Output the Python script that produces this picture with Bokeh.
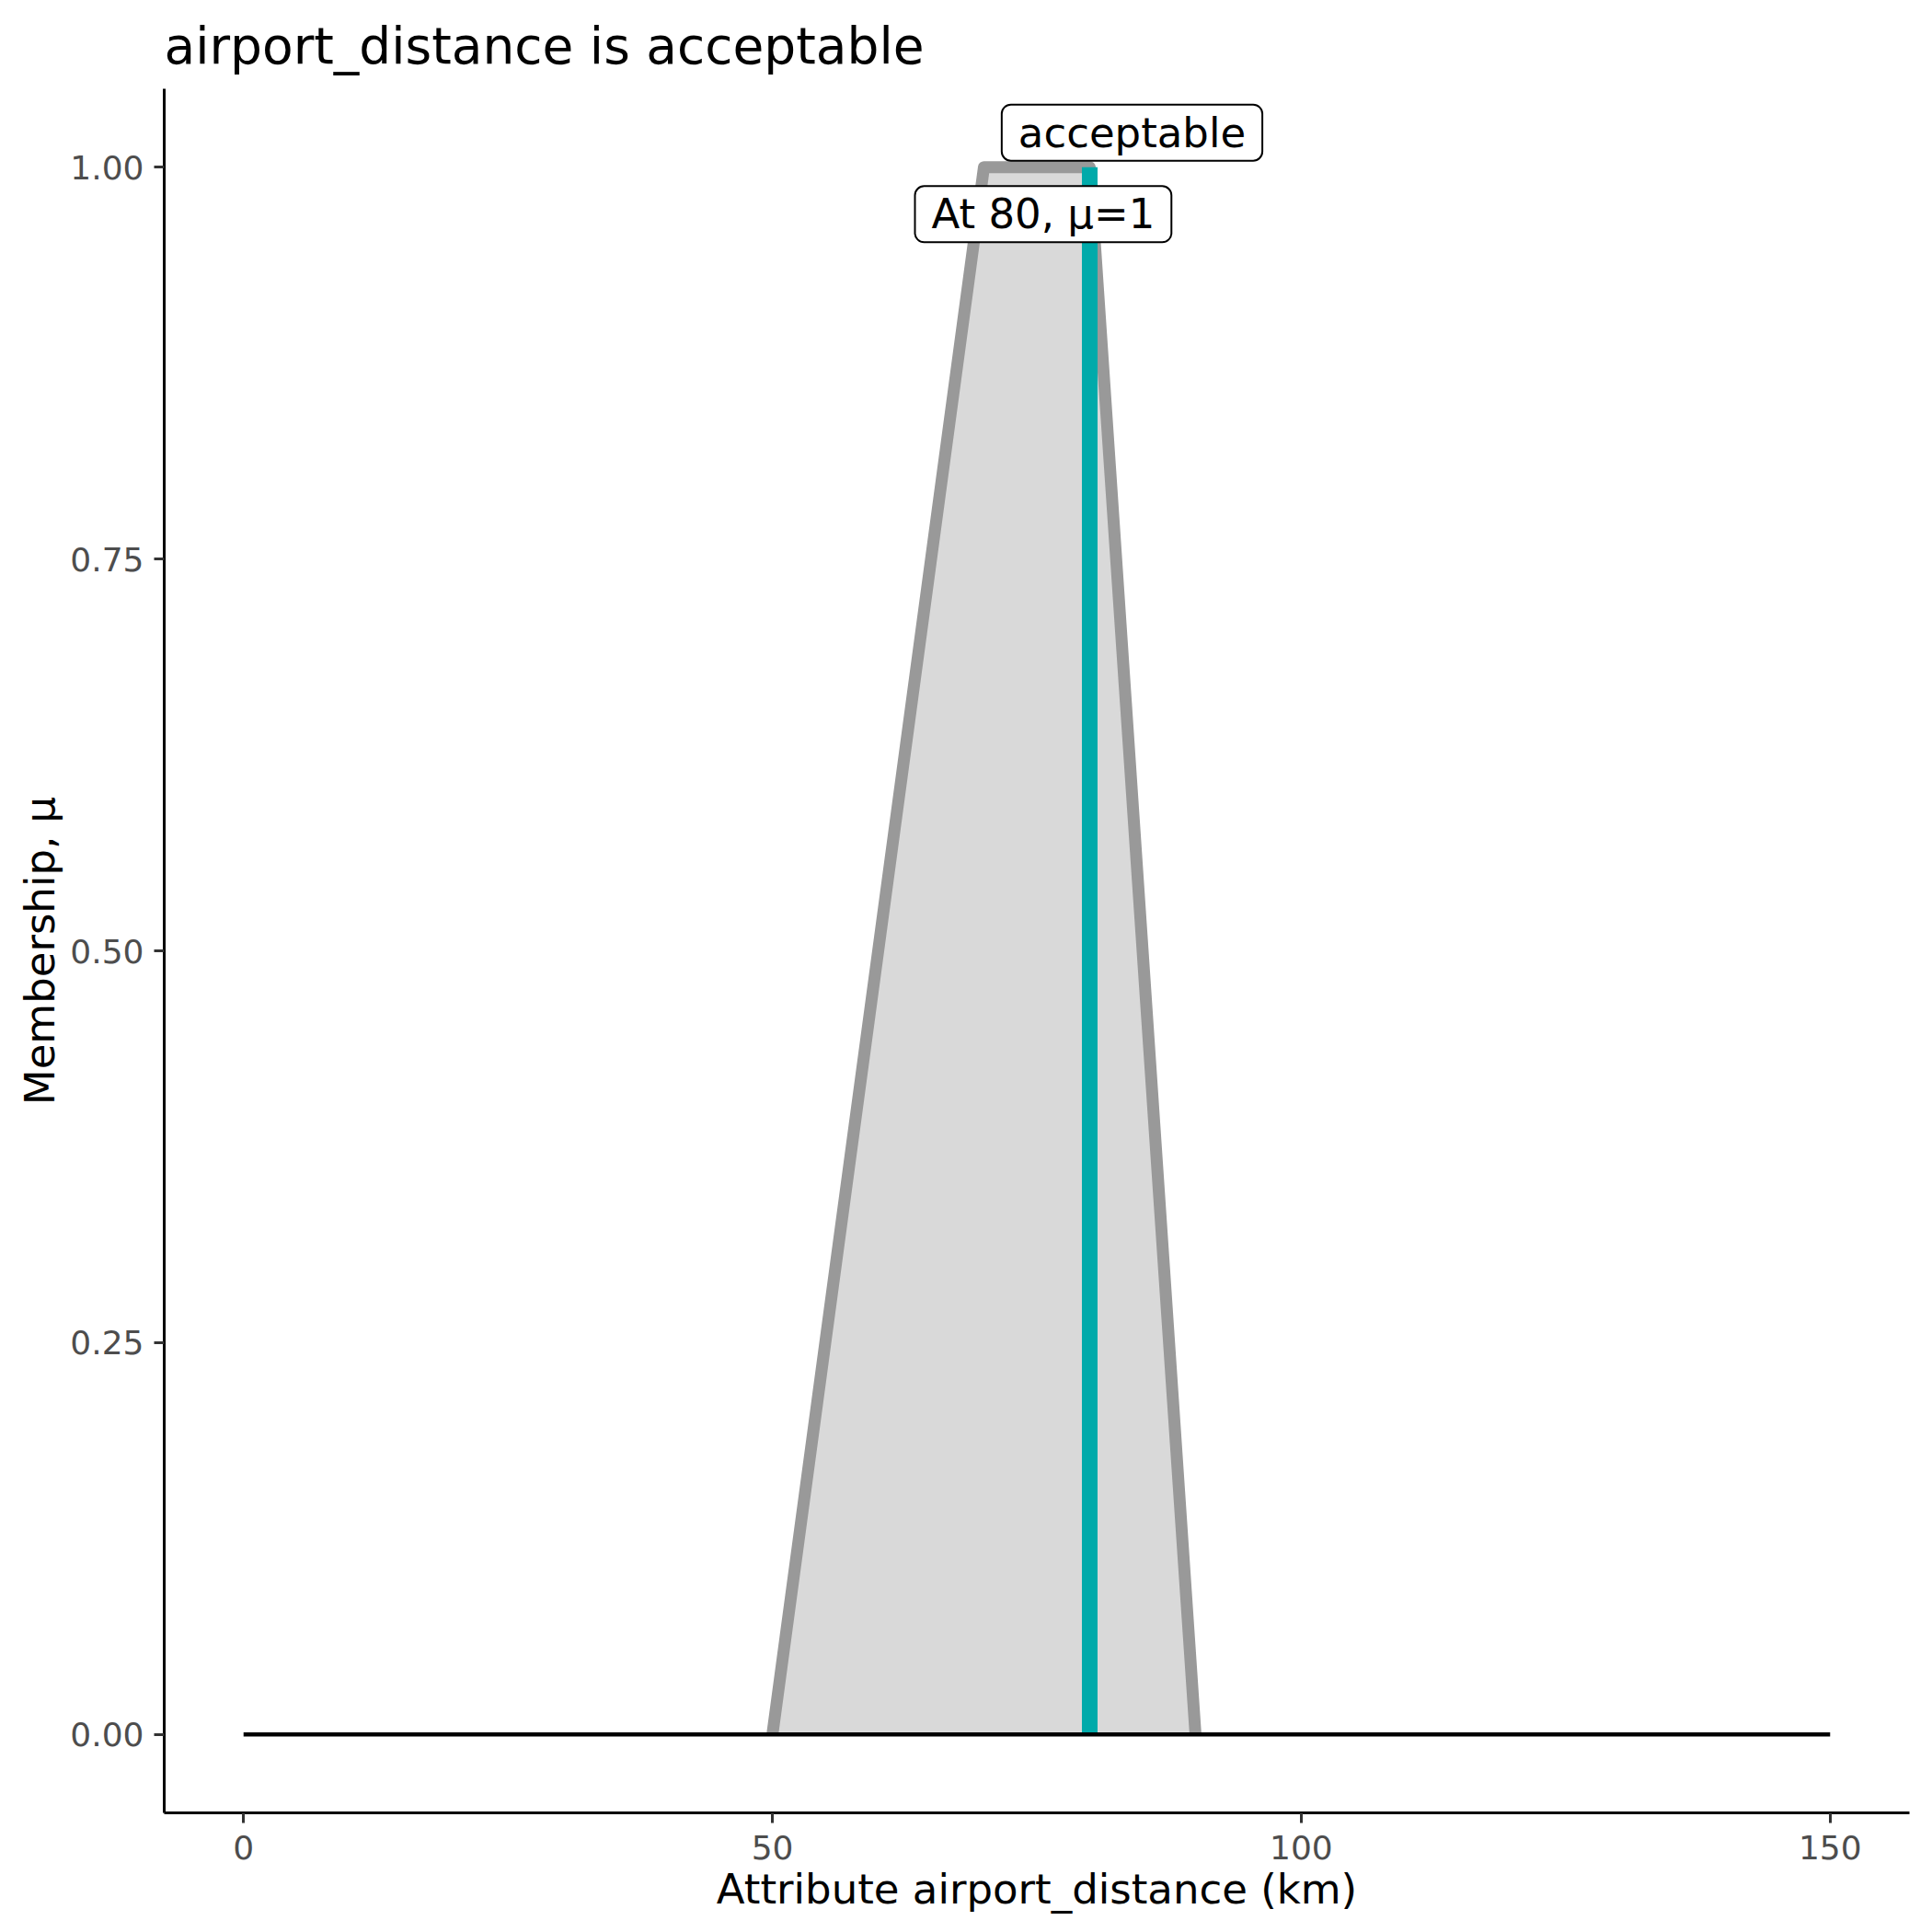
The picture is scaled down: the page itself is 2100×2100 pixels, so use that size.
from bokeh.plotting import figure
from bokeh.models import Range1d, FixedTicker, Label
from bokeh.embed import file_html
from bokeh.resources import INLINE

# ---- data ----
universe_x = [0, 150]
universe_y = [0, 0]
mf_x = [50, 70, 80, 90]
mf_y = [0, 1, 1, 0]
obs_x = [80, 80]
obs_y = [0, 1]
term_label = "acceptable"
term_label_pos = [84.0, 1.022]
obs_label = "At 80, \u03bc=1"
obs_label_pos = [75.6, 0.97]
x_ticks = [0, 50, 100, 150]
y_ticks = [0, 0.25, 0.5, 0.75, 1.0]
y_tick_labels = ["0.00", "0.25", "0.50", "0.75", "1.00"]
title_text = "airport_distance is acceptable"

FONT = "DejaVu Sans"

p = figure(width=2084, height=2084, output_backend="svg", toolbar_location=None,
           x_range=Range1d(-7.5, 157.5), y_range=Range1d(-0.05, 1.05),
           min_border_left=178, min_border_right=9, min_border_top=96, min_border_bottom=114,
           title=title_text)
p.background_fill_color = "white"
p.border_fill_color = "white"
p.outline_line_color = None
p.grid.visible = False

p.title.text_font = FONT
p.title.text_font_size = "55px"
p.title.text_font_style = "normal"
p.title.text_color = "black"
p.title.align = "left"
p.title.standoff = 30

# fuzzy set
p.patch(mf_x, mf_y, fill_color="#D9D9D9", line_color=None)
p.line(mf_x, mf_y, line_color="#999999", line_width=13, line_join="round", line_cap="butt")
p.line(obs_x, obs_y, line_color="#00AAAA", line_width=17, line_cap="butt")
p.line(universe_x, universe_y, line_color="black", line_width=4.5)

for txt, pos in [(term_label, term_label_pos), (obs_label, obs_label_pos)]:
    p.add_layout(Label(x=pos[0], y=pos[1], text=txt, text_align="center", text_baseline="middle",
                       text_font=FONT, text_font_size="45px", text_color="black",
                       background_fill_color="white", border_line_color="black",
                       border_line_width=2, border_radius=10, padding=(18, 4)))

for ax in (p.xaxis[0], p.yaxis[0]):
    ax.axis_line_color = "black"
    ax.axis_line_width = 3
    ax.major_tick_line_color = "#333333"
    ax.major_tick_line_width = 3
    ax.major_tick_out = 11
    ax.major_tick_in = 0
    ax.minor_tick_out = 0
    ax.minor_tick_in = 0
    ax.major_label_text_font = FONT
    ax.major_label_text_font_size = "36px"
    ax.major_label_text_color = "#4D4D4D"
    ax.axis_label_text_font = FONT
    ax.axis_label_text_font_size = "45px"
    ax.axis_label_text_font_style = "normal"
    ax.axis_label_text_color = "black"

p.xaxis.ticker = FixedTicker(ticks=x_ticks)
p.xaxis.major_label_standoff = 13
p.xaxis.axis_label = "Attribute airport_distance (km)"
p.xaxis.axis_label_standoff = 3

p.yaxis.ticker = FixedTicker(ticks=y_ticks)
p.yaxis.major_label_overrides = {t: l for t, l in zip(y_ticks, y_tick_labels)}
p.yaxis.major_label_standoff = 11
p.yaxis.axis_label = "Membership, \u03bc"
p.yaxis.axis_label_standoff = 3

open("out.html", "w").write(file_html(p, INLINE))
